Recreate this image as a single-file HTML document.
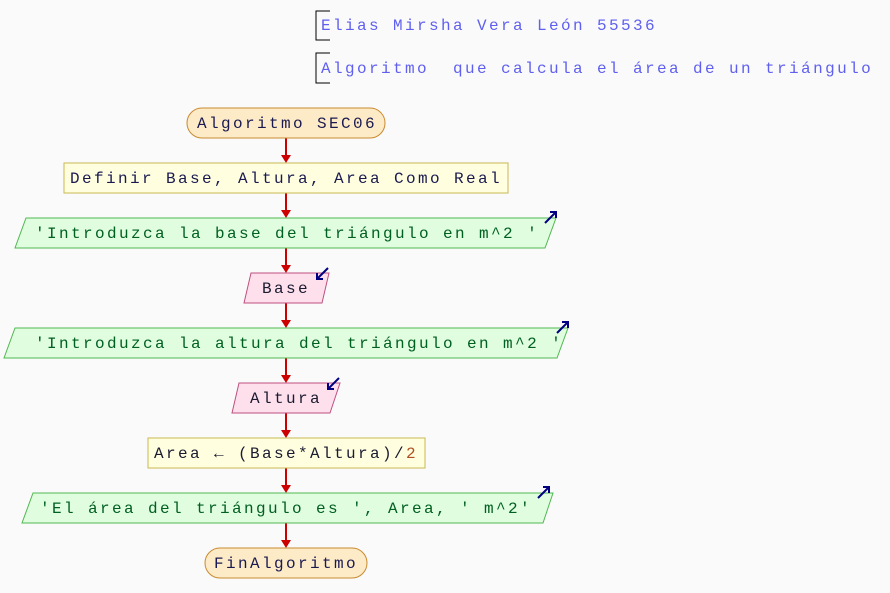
<!DOCTYPE html>
<html><head><meta charset="utf-8"><style>
html,body{margin:0;padding:0;background:#fafafa;}
svg{display:block}
text{font-family:"Liberation Mono",monospace;font-size:16px;letter-spacing:2.4px;white-space:pre;}
</style></head><body>
<svg width="890" height="593" viewBox="0 0 890 593" xmlns="http://www.w3.org/2000/svg" xml:space="preserve">
<rect width="890" height="593" fill="#fafafa"/>
<path d="M330,11 H316 V40 H330" fill="none" stroke="#000" stroke-width="1"/>
<text x="321" y="30" fill="#6060f0">Elias Mirsha Vera León 55536</text>
<path d="M330,53 H316 V83 H330" fill="none" stroke="#000" stroke-width="1"/>
<text x="321" y="73" fill="#6060f0">Algoritmo  que calcula el área de un triángulo</text>
<g stroke="#cc0000" stroke-width="2">
<line x1="286" y1="138" x2="286" y2="156"/>
<line x1="286" y1="193" x2="286" y2="211"/>
<line x1="286" y1="248" x2="286" y2="266"/>
<line x1="286" y1="303" x2="286" y2="321"/>
<line x1="286" y1="358" x2="286" y2="376"/>
<line x1="286" y1="413" x2="286" y2="431"/>
<line x1="286" y1="468" x2="286" y2="486"/>
<line x1="286" y1="523" x2="286" y2="541"/>
</g>
<g fill="#cc0000">
<path d="M281,155 H291 L286,163 z"/>
<path d="M281,210 H291 L286,218 z"/>
<path d="M281,265 H291 L286,273 z"/>
<path d="M281,320 H291 L286,328 z"/>
<path d="M281,375 H291 L286,383 z"/>
<path d="M281,430 H291 L286,438 z"/>
<path d="M281,485 H291 L286,493 z"/>
<path d="M281,540 H291 L286,548 z"/>
</g>
<rect x="187" y="108" width="198" height="30" rx="15" fill="#fdebc8" stroke="#c88a30"/>
<text x="197" y="128" fill="#1a1a50">Algoritmo SEC06</text>
<rect x="64" y="163" width="444" height="30" fill="#ffffe0" stroke="#c8b850"/>
<text x="70" y="183" fill="#1a1a50">Definir Base, Altura, Area Como Real</text>
<polygon points="26,218 556,218 545,248 15,248" fill="#e0fde0" stroke="#50b850"/>
<text x="35" y="238" fill="#006020">'Introduzca la base del triángulo en m^2 '</text>
<path d="M545,223 L556,212 M550,212 H556 V218" fill="none" stroke="#000080" stroke-width="2"/>
<polygon points="251,273 329,273 322,303 244,303" fill="#fde0ec" stroke="#c05080"/>
<text x="262" y="293" fill="#1a1a30">Base</text>
<path d="M328,268 L317,279 M317,273 V279 H323" fill="none" stroke="#000080" stroke-width="2"/>
<polygon points="15,328 568,328 557,358 4,358" fill="#e0fde0" stroke="#50b850"/>
<text x="35" y="348" fill="#006020">'Introduzca la altura del triángulo en m^2 '</text>
<path d="M557,333 L568,322 M562,322 H568 V328" fill="none" stroke="#000080" stroke-width="2"/>
<polygon points="239,383 340,383 330,413 232,413" fill="#fde0ec" stroke="#c05080"/>
<text x="250" y="403" fill="#1a1a30">Altura</text>
<path d="M339,378 L328,389 M328,383 V389 H334" fill="none" stroke="#000080" stroke-width="2"/>
<rect x="148" y="438" width="277" height="30" fill="#ffffe0" stroke="#c8b850"/>
<text x="154" y="458" fill="#1a1a30">Area ← (Base*Altura)/<tspan fill="#b05020">2</tspan></text>
<polygon points="33,493 553,493 543,523 22,523" fill="#e0fde0" stroke="#50b850"/>
<text x="40" y="513" fill="#006020">'El área del triángulo es ', Area, ' m^2'</text>
<path d="M538,498 L549,487 M543,487 H549 V493" fill="none" stroke="#000080" stroke-width="2"/>
<rect x="205" y="548" width="162" height="30" rx="15" fill="#fdebc8" stroke="#c88a30"/>
<text x="214" y="568" fill="#1a1a50">FinAlgoritmo</text>
</svg>
</body></html>
